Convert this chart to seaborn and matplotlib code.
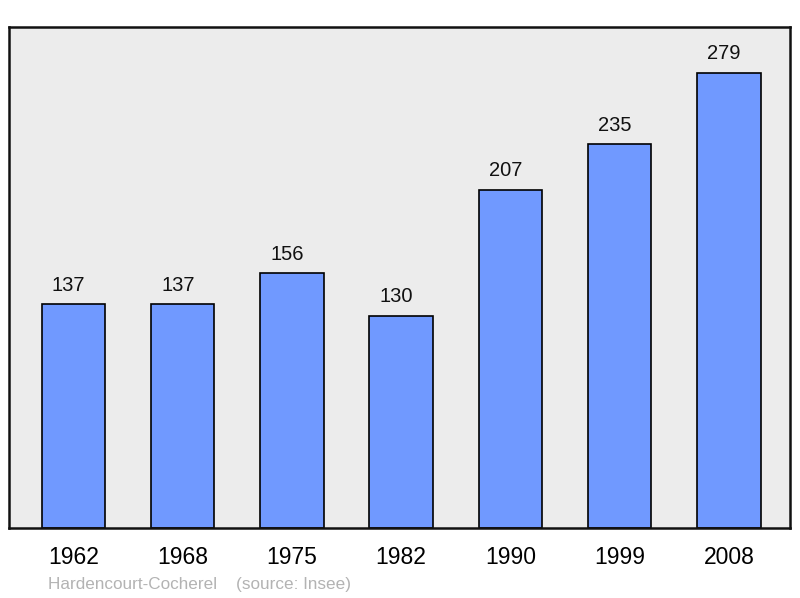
import pandas as pd
import matplotlib.pyplot as plt
import seaborn as sns

# --- dati ---
years = ["1962", "1968", "1975", "1982", "1990", "1999", "2008"]
population = [137, 137, 156, 130, 207, 235, 279]
commune = "Hardencourt-Cocherel"
source = "(source: Insee)"

df = pd.DataFrame({"Year": years, "Population": population})

sns.set_theme(style="white")
plt.rcParams["font.family"] = ["Liberation Sans", "DejaVu Sans"]

fig = plt.figure(figsize=(8, 5.98), dpi=100)
ax = fig.add_axes([9 / 800, 70 / 598, 781 / 800, 501 / 598])
ax.set_facecolor("#ececec")

sns.barplot(data=df, x="Year", y="Population", color="#7099ff",
            width=0.58, edgecolor="black", linewidth=1.2, saturation=1, ax=ax)

ax.set_ylim(0, 307)
ax.set_xlim(-0.59, 6.56)
ax.set_xlabel("")
ax.set_ylabel("")
ax.set_yticks([])
ax.tick_params(axis="x", length=0, labelsize=16.5, pad=13, colors="black")

for s in ax.spines.values():
    s.set_linewidth(1.8)
    s.set_color("#111111")

# valori sopra le barre (leggermente spostati a sinistra come nell'originale)
for bar, val in zip(ax.patches, population):
    ax.annotate(str(val), (bar.get_x() + bar.get_width() / 2, bar.get_height()),
                xytext=(-3.5, 7), textcoords="offset points",
                ha="center", va="bottom", fontsize=14.5, color="#111111")

fig.text(48 / 800, 1 - 584 / 598, commune + "    " + source,
         fontsize=12.3, color="#b3b3b3", va="center", ha="left")

fig.savefig("out.png", dpi=100)
